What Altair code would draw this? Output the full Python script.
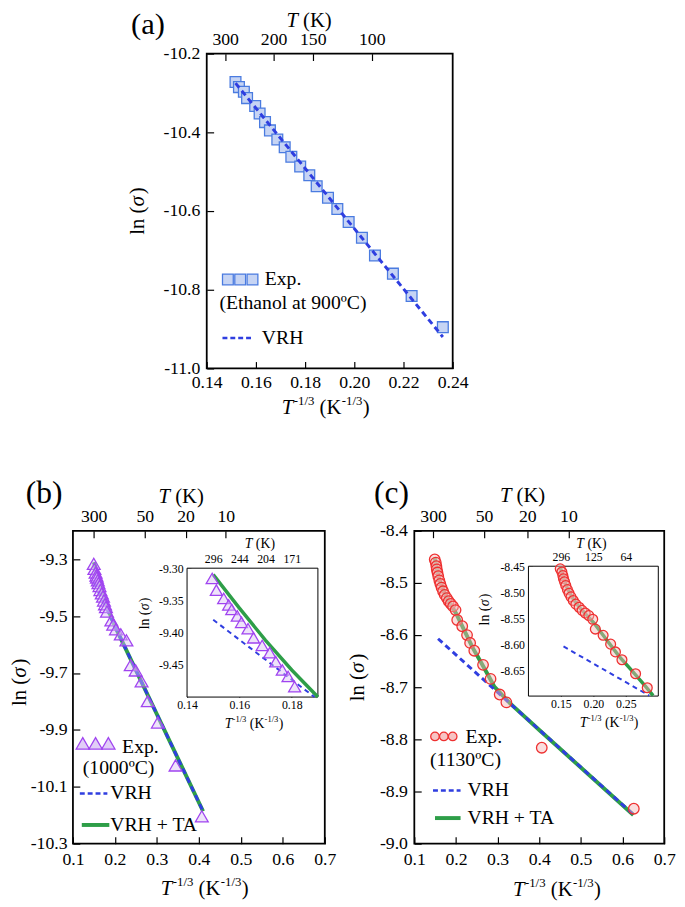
import altair as alt
import pandas as pd

FONT = "Liberation Serif"
BLUE = "#2f3ee0"
GREEN = "#2e9e48"
SQ_FILL, SQ_STROKE = "#c6d4f4", "#4a7be0"
TR_FILL, TR_STROKE = "#d9c2f5", "#a044f0"
CI_FILL, CI_STROKE = "#f5b5b5", "#ee3030"

# ---------------- Panel (a) data ----------------
a_x = [0.1517, 0.1531, 0.1551, 0.1564, 0.1597, 0.1615, 0.1637, 0.1657, 0.1687, 0.1717, 0.1744,
       0.1780, 0.1817, 0.1847, 0.1893, 0.1931, 0.1977, 0.2031, 0.2084, 0.2157, 0.2233, 0.2360]
a_y = [-10.272, -10.285, -10.297, -10.313, -10.333, -10.352, -10.374, -10.395, -10.418, -10.438, -10.462,
       -10.487, -10.509, -10.537, -10.566, -10.595, -10.628, -10.668, -10.713, -10.759, -10.816, -10.895]
a_vrh_x = [0.1517, 0.2360]
a_vrh_y = [-10.275, -10.920]
a_xticks = [0.14, 0.16, 0.18, 0.20, 0.22, 0.24]
a_yticks = [-11.0, -10.8, -10.6, -10.4, -10.2]
a_top_pos = [0.1475, 0.1672, 0.1831, 0.2071]
a_top_lab = ["300", "200", "150", "100"]

# ---------------- Panel (b) data ----------------
b_x = [0.1496, 0.1512, 0.1540, 0.1559, 0.1571, 0.1592, 0.1608, 0.1633, 0.1654, 0.1687, 0.1716,
       0.1739, 0.1764, 0.1786, 0.1811, 0.1915, 0.1960, 0.2025, 0.2140, 0.2274, 0.2377, 0.2494,
       0.2635, 0.2782, 0.3024, 0.3445, 0.4070]
b_y = [-9.316, -9.334, -9.347, -9.357, -9.364, -9.374, -9.384, -9.394, -9.408, -9.420, -9.431,
       -9.445, -9.458, -9.468, -9.484, -9.515, -9.530, -9.546, -9.564, -9.585, -9.672, -9.691,
       -9.729, -9.799, -9.874, -10.025, -10.204]
b_vrh_x = [0.150, 0.410]
b_vrh_y = [-9.380, -10.186]
b_fit_x = [0.150, 0.160, 0.170, 0.180, 0.190, 0.200, 0.300, 0.410]
b_fit_y = [-9.310, -9.362, -9.412, -9.458, -9.500, -9.535, -9.845, -10.186]
b_ivrh_x = [0.150, 0.1887]
b_ivrh_y = [-9.380, -9.500]
b_xticks = [0.1, 0.2, 0.3, 0.4, 0.5, 0.6, 0.7]
b_yticks = [-10.3, -10.1, -9.9, -9.7, -9.5, -9.3]
b_top_pos = [0.1494, 0.2714, 0.3684, 0.4642]
b_top_lab = ["300", "50", "20", "10"]
bi_xticks = [0.14, 0.16, 0.18]
bi_yticks = [-9.30, -9.35, -9.40, -9.45]
bi_top_pos = [0.150, 0.160, 0.170, 0.180]
bi_top_lab = ["296", "244", "204", "171"]

# ---------------- Panel (c) data ----------------
c_x = [0.1490, 0.1515, 0.1530, 0.1540, 0.1556, 0.1575, 0.1600, 0.1625, 0.1655, 0.1690, 0.1730,
       0.1780, 0.1826, 0.1875, 0.1930, 0.1990, 0.2030, 0.2150, 0.2266, 0.2340, 0.2440, 0.2650,
       0.2830, 0.3050, 0.3210, 0.4060, 0.6270]
c_y = [-8.455, -8.461, -8.468, -8.474, -8.480, -8.487, -8.495, -8.502, -8.509, -8.516, -8.523,
       -8.529, -8.535, -8.540, -8.545, -8.552, -8.571, -8.583, -8.600, -8.615, -8.630, -8.657,
       -8.684, -8.714, -8.729, -8.816, -8.933]
c_vrh_x = [0.157, 0.626]
c_vrh_y = [-8.607, -8.944]
c_fit_x = [0.149, 0.155, 0.160, 0.170, 0.180, 0.200, 0.220, 0.240, 0.260, 0.280, 0.292, 0.330, 0.400, 0.626]
c_fit_y = [-8.452, -8.476, -8.493, -8.515, -8.531, -8.558, -8.591, -8.624, -8.652, -8.681, -8.699,
           -8.731, -8.782, -8.945]
c_ivrh_x = [0.154, 0.286]
c_ivrh_y = [-8.6045, -8.699]
c_xticks = [0.1, 0.2, 0.3, 0.4, 0.5, 0.6, 0.7]
c_yticks = [-9.0, -8.9, -8.8, -8.7, -8.6, -8.5, -8.4]
c_top_pos = [0.1450, 0.2673, 0.3714, 0.4700]
c_top_lab = ["300", "50", "20", "10"]
ci_xticks = [0.15, 0.20, 0.25]
ci_yticks = [-8.45, -8.50, -8.55, -8.60, -8.65]
ci_top_pos = [0.15, 0.20, 0.25]
ci_top_lab = ["296", "125", "64"]

ONE = pd.DataFrame({"k": [0]})


def xy(xs, ys):
    return pd.DataFrame({"x": xs, "y": ys})


def sc(dom, rng=None):
    if rng is None:
        return alt.Scale(domain=dom, zero=False, nice=False)
    return alt.Scale(domain=dom, range=rng, zero=False, nice=False)


def base_axis(orient, values, expr, size, tick, pad, offset):
    return alt.Axis(orient=orient, values=values, labelExpr=expr, title=None, grid=False,
                    domain=False, tickSize=tick, tickColor="black", tickWidth=1.2, offset=offset,
                    labelFont=FONT, labelFontSize=size, labelColor="black", labelPadding=pad,
                    labelFlush=False, labelOverlap=False)


def ax_num(orient, values, fmt, size=18, tick=7, pad=5, offset=None):
    expr = "replace(format(datum.value, '%s'), '\u2212', '-')" % fmt
    return base_axis(orient, values, expr, size, tick, pad, -tick if offset is None else offset)


def ax_map(orient, values, labels, size=18, tick=7, pad=5, offset=None):
    expr = "''"
    for p, l in reversed(list(zip(values, labels))):
        expr = "abs(datum.value - %s) < 0.000001 ? '%s' : (%s)" % (p, l, expr)
    return base_axis(orient, values, expr, size, tick, pad, -tick if offset is None else offset)


def txt(s, x, y, size, align="left", baseline="middle", italic=False, angle=0):
    kw = dict(text=s, font=FONT, fontSize=size, align=align, baseline=baseline, color="black")
    if italic:
        kw["fontStyle"] = "italic"
    if angle:
        kw["angle"] = angle
    return alt.Chart(ONE).mark_text(**kw).encode(x=alt.value(x), y=alt.value(y))


WR = {"T": 0.611, "(": 0.333, ")": 0.333, "K": 0.722, "-": 0.333, "1": 0.5,
      "/": 0.278, "3": 0.5, "l": 0.278, "n": 0.5}
WI = {"T": 0.556, "\u03c3": 0.55}


def rich(segs, cx, cy, size, angle=0):
    # segs: (text, italic, superscript, gap before in em)
    items = []
    for t, it, sup, gap in segs:
        fs = size * 0.62 if sup else size
        d = WI if it else WR
        items.append((t, it, sup, fs, gap * size, sum(d.get(c, 0.5) for c in t) * fs))
    pos = -sum(i[4] + i[5] for i in items) / 2
    out = []
    for t, it, sup, fs, g, w in items:
        pos += g
        rise = size * 0.42 if sup else 0
        if angle == 0:
            x, y = cx + pos, cy - rise
        else:
            x, y = cx - rise, cy - pos
        out.append(txt(t, x, y, fs, baseline="alphabetic", italic=it, angle=angle))
        pos += w
    return out


TK = [("T", True, False, 0), ("(K)", False, False, 0.25)]
TX = [("T", True, False, 0), ("-1/3", False, True, 0.02), ("(K", False, False, 0.25),
      ("-1/3", False, True, 0.02), (")", False, False, 0.02)]
LN = [("ln", False, False, 0), ("(", False, False, 0.25), ("\u03c3", True, False, 0.02), (")", False, False, 0.04)]


def titles(top, bot, left, size):
    return rich(TK, top[0], top[1], size) + rich(TX, bot[0], bot[1], size) + rich(LN, left[0], left[1], size, 270)


def line(df, xs, ys, color, width, dash=None, xaxis=None, yaxis=None):
    kw = dict(color=color, strokeWidth=width)
    if dash:
        kw["strokeDash"] = dash
    return alt.Chart(df).mark_line(**kw).encode(
        x=alt.X("x:Q", scale=xs, axis=xaxis), y=alt.Y("y:Q", scale=ys, axis=yaxis))


def points(df, xs, ys, shape, size, fill, stroke, fop, xaxis=None, yaxis=None):
    return alt.Chart(df).mark_point(shape=shape, size=size, filled=True, fill=fill, fillOpacity=fop,
                                    stroke=stroke, strokeWidth=1.3, strokeOpacity=1, opacity=1).encode(
        x=alt.X("x:Q", scale=xs, axis=xaxis), y=alt.Y("y:Q", scale=ys, axis=yaxis))


def sym(x, y, shape, size, fill, stroke, fop):
    return alt.Chart(ONE).mark_point(shape=shape, size=size, filled=True, fill=fill, fillOpacity=fop,
                                     stroke=stroke, strokeWidth=1.3, opacity=1).encode(
        x=alt.value(x), y=alt.value(y))


def seg(x1, x2, y, color, width, dash=None):
    kw = dict(color=color, strokeWidth=width)
    if dash:
        kw["strokeDash"] = dash
    return alt.Chart(ONE).mark_rule(**kw).encode(x=alt.value(x1), x2=alt.value(x2), y=alt.value(y))


def inset_frame(xd, yd, xr, yr, H, xt, xfmt, yt, yfmt):
    df = pd.DataFrame({"x0": [xd[0]], "x1": [xd[1]], "y0": [yd[0]], "y1": [yd[1]]})
    t = 4
    return alt.Chart(df).mark_rect(fill="white", stroke="black", strokeWidth=1).encode(
        x=alt.X("x0:Q", scale=sc(xd, xr),
                axis=ax_num("bottom", xt, xfmt, size=12, tick=t, pad=3, offset=yr[0] - t - H)),
        x2="x1:Q",
        y=alt.Y("y0:Q", scale=sc(yd, yr),
                axis=ax_num("left", yt, yfmt, size=12, tick=t, pad=4, offset=-(xr[0] + t))),
        y2="y1:Q")


# ---------------- Panel (a) ----------------
AW, AH = 250, 320
axd, ayd = [0.14, 0.24], [-11.0, -10.2]
la = [
    points(xy(a_x, a_y), sc(axd), sc(ayd), "square", 120, SQ_FILL, SQ_STROKE, 1,
           xaxis=ax_num("bottom", a_xticks, ".2f", pad=5), yaxis=ax_num("left", a_yticks, ".1f", pad=7)),
    line(xy(a_vrh_x, a_vrh_y), sc(axd), sc(ayd), BLUE, 3, [6, 4],
         xaxis=ax_map("top", a_top_pos, a_top_lab, pad=5)),
    sym(21.5, 229.5, "square", 120, SQ_FILL, SQ_STROKE, 1),
    sym(34, 229.5, "square", 120, SQ_FILL, SQ_STROKE, 1),
    sym(46.5, 229.5, "square", 120, SQ_FILL, SQ_STROKE, 1),
    txt("Exp.", 59, 229, 20),
    txt("(Ethanol at 900\u00baC)", 13, 254, 20),
    seg(16, 46, 289, BLUE, 2.5, [5, 3]),
    txt("VRH", 56, 289, 20),
    txt("(a)", -77, -20, 31, baseline="alphabetic"),
] + titles((104, -27), (121, 366), (-64, 160), 21)
panel_a = alt.layer(*la).resolve_scale(x="independent", y="independent").properties(width=AW, height=AH)

# ---------------- Panel (b) ----------------
BW, BH = 256, 318
bxd, byd = [0.1, 0.7], [-10.3, -9.2]
bixd, biyd = [0.14, 0.19], [-9.5, -9.3]
bixr, biyr = [116, 249], [169, 38]
bdf = xy(b_x, b_y)
bidf = bdf[(bdf.x <= bixd[1]) & (bdf.y >= biyd[0])]
lb = [
    line(xy(b_fit_x, b_fit_y), sc(bxd), sc(byd), GREEN, 4, xaxis=ax_map("top", b_top_pos, b_top_lab, pad=5)),
    line(xy(b_vrh_x, b_vrh_y), sc(bxd), sc(byd), BLUE, 3, [6, 4]),
    points(bdf, sc(bxd), sc(byd), "triangle-up", 170, TR_FILL, TR_STROKE, 0.45,
           xaxis=ax_num("bottom", b_xticks, ".1f", pad=7), yaxis=ax_num("left", b_yticks, ".1f", pad=6)),
    sym(10, 216, "triangle-up", 180, TR_FILL, TR_STROKE, 0.8),
    sym(23, 216, "triangle-up", 180, TR_FILL, TR_STROKE, 0.8),
    sym(36, 216, "triangle-up", 180, TR_FILL, TR_STROKE, 0.8),
    txt("Exp.", 50, 220, 20),
    txt("(1000\u00baC)", 10, 241, 20),
    seg(7, 35, 267, BLUE, 2.5, [5, 3]),
    txt("VRH", 38, 267, 20),
    seg(9, 37, 299, GREEN, 4),
    txt("VRH + TA", 38, 299, 20),
    inset_frame(bixd, biyd, bixr, biyr, BH, bi_xticks, ".2f", bi_yticks, ".2f"),
    line(xy(b_fit_x, b_fit_y)[lambda d: d.x <= 0.19], sc(bixd, bixr), sc(biyd, biyr), GREEN, 3.5,
         xaxis=ax_map("top", bi_top_pos, bi_top_lab, size=12, tick=4, pad=3, offset=-(biyr[1] + 4))),
    line(xy(b_ivrh_x, b_ivrh_y), sc(bixd, bixr), sc(biyd, biyr), BLUE, 2, [5, 4]),
    points(bidf, sc(bixd, bixr), sc(biyd, biyr), "triangle-up", 150, TR_FILL, TR_STROKE, 0.45),
    txt("(b)", -48, -28, 32, baseline="alphabetic"),
] + titles((110, -28), (134, 370), (-48, 154), 21) + titles((190, 17), (184, 200), (77, 84), 14)
panel_b = alt.layer(*lb).resolve_scale(x="independent", y="independent").properties(width=BW, height=BH)

# ---------------- Panel (c) ----------------
CW, CH = 254, 318
cxd, cyd = [0.1, 0.7], [-9.0, -8.4]
cixd, ciyd = [0.10, 0.30], [-8.70, -8.45]
cixr, ciyr = [116, 248], [168, 36]
cdf = xy(c_x, c_y)
cidf = cdf[(cdf.x <= cixd[1]) & (cdf.y >= ciyd[0])]
lc = [
    line(xy(c_fit_x, c_fit_y), sc(cxd), sc(cyd), GREEN, 4, xaxis=ax_map("top", c_top_pos, c_top_lab, pad=5)),
    line(xy(c_vrh_x, c_vrh_y), sc(cxd), sc(cyd), BLUE, 3, [6, 4]),
    points(cdf, sc(cxd), sc(cyd), "circle", 115, CI_FILL, CI_STROKE, 0.45,
           xaxis=ax_num("bottom", c_xticks, ".1f", pad=7), yaxis=ax_num("left", c_yticks, ".1f", pad=7)),
    sym(21, 209, "circle", 75, CI_FILL, CI_STROKE, 0.8),
    sym(30, 209, "circle", 75, CI_FILL, CI_STROKE, 0.8),
    sym(39, 209, "circle", 75, CI_FILL, CI_STROKE, 0.8),
    txt("Exp.", 52, 210, 20),
    txt("(1130\u00baC)", 16, 233, 20),
    seg(19, 47, 264, BLUE, 2.5, [5, 3]),
    txt("VRH", 54, 264, 20),
    seg(21, 47, 292, GREEN, 4),
    txt("VRH + TA", 54, 292, 20),
    inset_frame(cixd, ciyd, cixr, ciyr, CH, ci_xticks, ".2f", ci_yticks, ".2f"),
    line(xy(c_fit_x, c_fit_y)[lambda d: d.x <= 0.2925], sc(cixd, cixr), sc(ciyd, ciyr), GREEN, 3.5,
         xaxis=ax_map("top", ci_top_pos, ci_top_lab, size=12, tick=4, pad=3, offset=-(ciyr[1] + 4))),
    line(xy(c_ivrh_x, c_ivrh_y), sc(cixd, cixr), sc(ciyd, ciyr), BLUE, 2, [5, 4]),
    points(cidf, sc(cixd, cixr), sc(ciyd, ciyr), "circle", 100, CI_FILL, CI_STROKE, 0.45),
    txt("(c)", -41, -28, 32, baseline="alphabetic"),
] + titles((110, -29), (145, 371), (-51, 149), 21) + titles((180, 17), (198, 199), (76, 80), 14)
panel_c = alt.layer(*lc).resolve_scale(x="independent", y="independent").properties(width=CW, height=CH)

spacer = alt.Chart(ONE).mark_point(opacity=0).encode(x=alt.value(0), y=alt.value(0)).properties(
    width=116, height=10, view=alt.ViewBackground(strokeOpacity=0))

row1 = alt.hconcat(spacer, panel_a, spacing=20, bounds="flush")
row2 = alt.hconcat(panel_b, panel_c, spacing=91, bounds="flush")
chart = alt.vconcat(row1, row2, spacing=485, bounds="flush").properties(
    padding={"left": 0, "top": -7, "right": 0, "bottom": 0},
    background="white").configure_view(stroke="black", strokeWidth=1.8)

chart.save("out.html", embed_options={"renderer": "svg", "actions": False})
